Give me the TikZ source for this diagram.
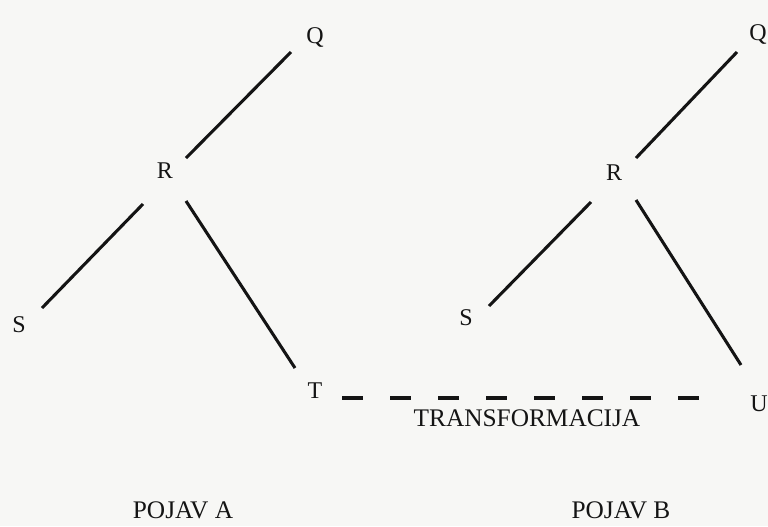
\documentclass[tikz,border=0pt]{standalone}
\usepackage{fontspec}
\setmainfont{Liberation Serif}
\usepackage{xcolor}
\definecolor{papir}{HTML}{F7F7F5}
\definecolor{tinta}{HTML}{141414}

\begin{document}
\begin{tikzpicture}[x=0.75pt, y=-0.75pt,
    lbl/.style={font=\fontsize{18}{20}\selectfont, text=tinta, inner sep=0pt, anchor=base},
    natpis/.style={lbl, font=\fontsize{19}{21}\selectfont},
    grana/.style={line width=2.3pt, draw=tinta},
    prijelaz/.style={grana, dash pattern=on 15.75pt off 20.25pt}]
    % Pozadina
    \fill[papir] (0,0) rectangle (768,526);

    % Pojav A
    \node[lbl] (QA) at (315,43) {Q};
    \node[lbl] (RA) at (165,178) {R};
    \node[lbl] (SA) at (19,332) {S};
    \node[lbl] (TA) at (315,398) {T};
    \coordinate (qa) at (291,52);
    \coordinate (ra1) at (186,158);
    \coordinate (ra2) at (143,204);
    \coordinate (ra3) at (186,201);
    \coordinate (sa) at (42,308);
    \coordinate (ta) at (295,368);
    \draw[grana] (qa) -- (ra1);
    \draw[grana] (ra2) -- (sa);
    \draw[grana] (ra3) -- (ta);

    % Pojav B
    \node[lbl] (QB) at (758,40) {Q};
    \node[lbl] (RB) at (614,180) {R};
    \node[lbl] (SB) at (466,325) {S};
    \node[lbl] (UB) at (759,411) {U};
    \coordinate (qb) at (737,52);
    \coordinate (rb1) at (636,158);
    \coordinate (rb2) at (591,202);
    \coordinate (rb3) at (636,200);
    \coordinate (sb) at (489,306);
    \coordinate (ub) at (741,365);
    \draw[grana] (qb) -- (rb1);
    \draw[grana] (rb2) -- (sb);
    \draw[grana] (rb3) -- (ub);

    % Transformacija T -> U
    \coordinate (tp) at (342,398);
    \coordinate (up) at (702,398);
    \draw[prijelaz] (tp) -- (up);
    \node[natpis] (tr) at (527,426) {TRANSFORMACIJA};

    % Natpisi
    \node[natpis] (pa) at (183,518) {POJAV A};
    \node[natpis] (pb) at (621,518) {POJAV B};
\end{tikzpicture}
\end{document}
